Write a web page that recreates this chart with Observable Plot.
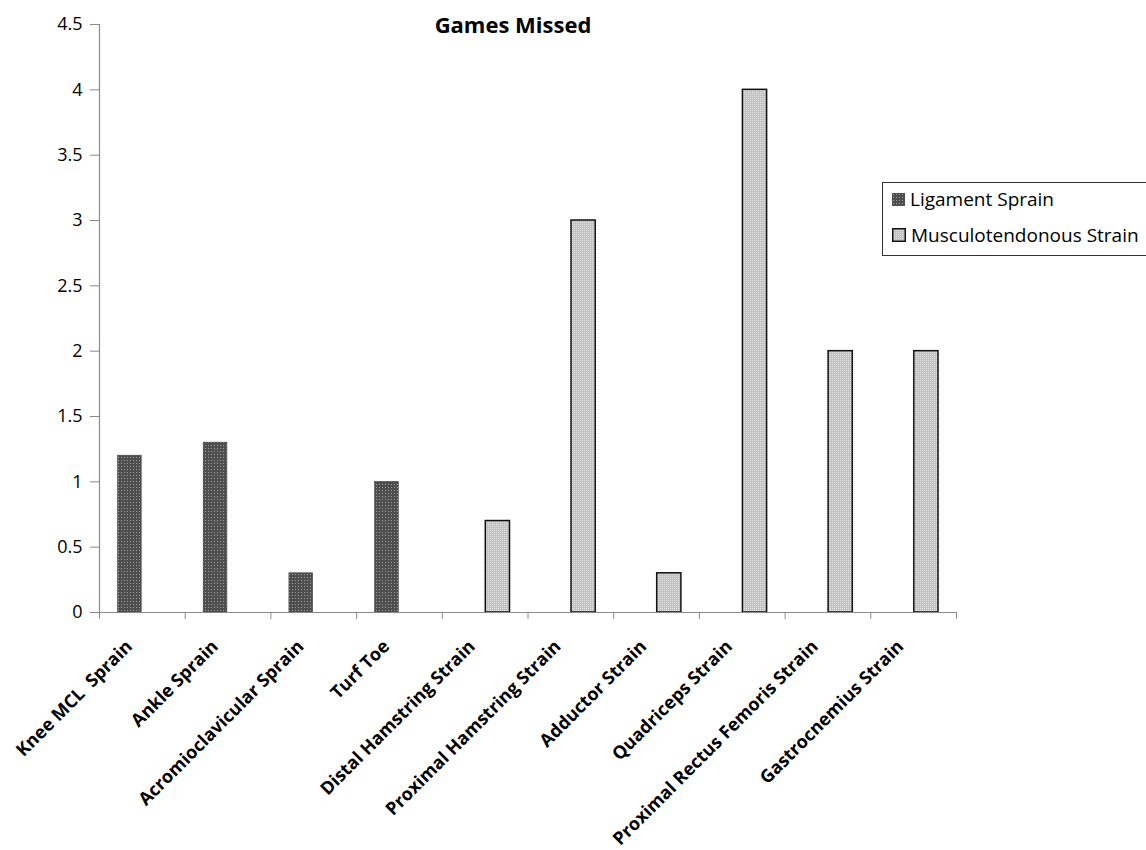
<!DOCTYPE html>
<html>
<head>
<meta charset="utf-8">
<script src="https://cdn.jsdelivr.net/npm/d3@7"></script>
<script src="https://cdn.jsdelivr.net/npm/@observablehq/plot@0.6"></script>
<style>
  html, body { margin: 0; padding: 0; background: #fff; overflow: hidden; }
  #wrap { position: relative; width: 1146px; height: 850px; font-family: "Open Sans", Lato, sans-serif; }
  #title { position: absolute; left: 0; width: 1026px; top: 9px; text-align: center; font-weight: bold; font-size: 22px; color: #000; }
  #legend { position: absolute; left: 882px; top: 182px; width: 270px; height: 74px; border: 1.5px solid #333; box-sizing: border-box; font-size: 19px; color: #000; }
  .item { position: absolute; left: 9px; display: flex; align-items: center; white-space: nowrap; }
  .item svg { margin-right: 5px; }
</style>
</head>
<body>
<div id="wrap">
  <div id="title">Games Missed</div>
  <div id="legend">
    <div class="item" style="top:3px"><svg width="13" height="13"><rect x="0" y="0" width="13" height="13" fill="url(#ligPat)" stroke="#555" stroke-width="0.5"/></svg><span>Ligament Sprain</span></div>
    <div class="item" style="top:39px"><svg width="14" height="14"><rect x="0.75" y="0.75" width="12.5" height="12.5" fill="url(#musPat)" stroke="#111" stroke-width="1.5"/></svg><span>Musculotendonous Strain</span></div>
  </div>
</div>
<script>
const categories = [
  "Knee MCL  Sprain", "Ankle Sprain", "Acromioclavicular Sprain", "Turf Toe",
  "Distal Hamstring Strain", "Proximal Hamstring Strain", "Adductor Strain",
  "Quadriceps Strain", "Proximal Rectus Femoris Strain", "Gastrocnemius Strain"
];
const seriesOf = [
  "Ligament Sprain", "Ligament Sprain", "Ligament Sprain", "Ligament Sprain",
  "Musculotendonous Strain", "Musculotendonous Strain", "Musculotendonous Strain",
  "Musculotendonous Strain", "Musculotendonous Strain", "Musculotendonous Strain"
];
const gamesMissed = [1.2, 1.3, 0.3, 1.0, 0.7, 3, 0.3, 4, 2, 2];
const yTicks = [0, 0.5, 1, 1.5, 2, 2.5, 3, 3.5, 4, 4.5];

const rows = categories.map((c, i) => ({cat: c, idx: i, series: seriesOf[i], value: gamesMissed[i]}));
const lig = rows.filter(d => d.series === "Ligament Sprain");
const mus = rows.filter(d => d.series === "Musculotendonous Strain");

const chart = Plot.plot({
  width: 1146,
  height: 850,
  marginLeft: 99,
  marginRight: 190,
  marginTop: 24,
  marginBottom: 238,
  style: {fontFamily: "'Open Sans', Lato, sans-serif", background: "transparent"},
  x: {type: "linear", domain: [0, categories.length], axis: null},
  y: {domain: [0, 4.5], axis: null},
  marks: [
    Plot.rectY(lig, {x1: d => d.idx, x2: d => d.idx + 1, y: "value", insetLeft: 18.5, insetRight: 43.5,
      fill: "url(#ligPat)", stroke: "#444", strokeWidth: 0.6}),
    Plot.rectY(mus, {x1: d => d.idx, x2: d => d.idx + 1, y: "value", insetLeft: 43.5, insetRight: 18,
      fill: "url(#musPat)", stroke: "#111", strokeWidth: 1.5}),
    Plot.ruleX([0], {stroke: "#8a8a8a", strokeWidth: 1.2}),
    Plot.ruleY([0], {stroke: "#8a8a8a", strokeWidth: 1.2}),
    Plot.axisY({ticks: yTicks, tickSize: 9, tickPadding: 8, tickFormat: d => String(d), label: null,
      fontSize: 18, stroke: "#8a8a8a", fill: "#000"}),
    Plot.axisX({ticks: d3.range(0, categories.length + 1), tickSize: 7, tickFormat: () => "", label: null,
      stroke: "#8a8a8a"}),
    Plot.text(rows, {x: d => d.idx + 0.5, y: () => 0, text: "cat", rotate: -45, textAnchor: "end",
      lineAnchor: "middle", dx: -13, dy: 31, fontSize: 18, fontWeight: "bold", fill: "#000"})
  ]
});

const ns = "http://www.w3.org/2000/svg";
const defs = document.createElementNS(ns, "defs");
defs.innerHTML = `
  <pattern id="ligPat" width="3" height="3" patternUnits="userSpaceOnUse">
    <rect width="3" height="3" fill="#4e4e4e"/>
    <rect x="1" y="1" width="1" height="1" fill="#a0a0a0"/>
  </pattern>
  <pattern id="musPat" width="2" height="2" patternUnits="userSpaceOnUse">
    <rect width="2" height="2" fill="#c2c2c2"/>
    <rect x="0" y="0" width="1" height="1" fill="#e4e4e4"/>
  </pattern>`;
chart.insertBefore(defs, chart.firstChild);
chart.style.position = "absolute";
chart.style.left = "0";
chart.style.top = "0";
document.getElementById("wrap").insertBefore(chart, document.getElementById("wrap").firstChild);
</script>
</body>
</html>
